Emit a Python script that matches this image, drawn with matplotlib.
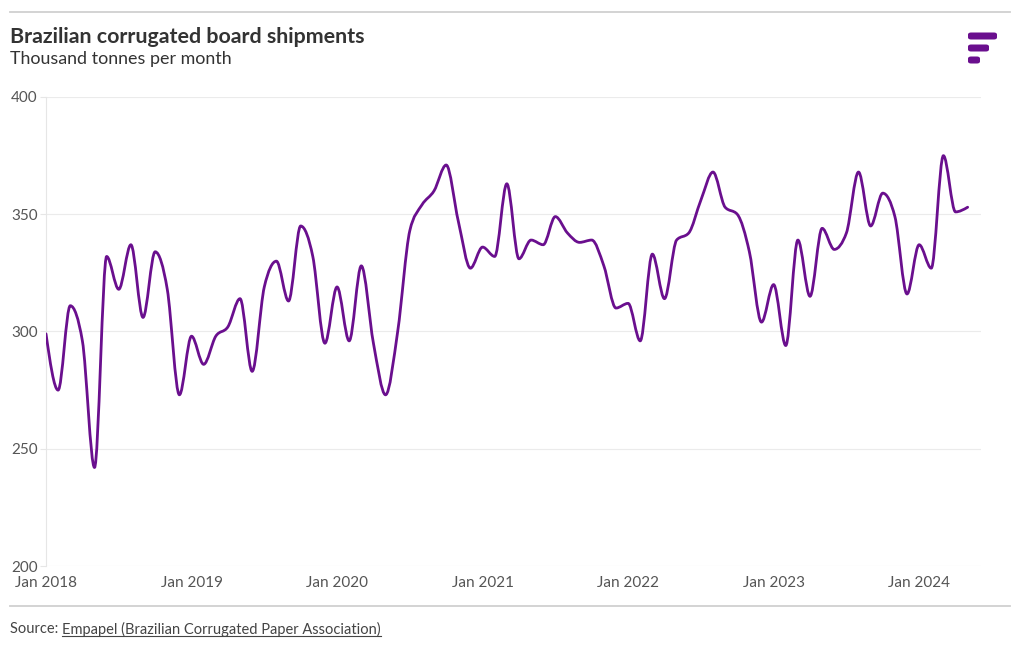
import numpy as np
import matplotlib as mpl
from matplotlib import pyplot as plt
from matplotlib.path import Path
from matplotlib.patches import PathPatch, FancyBboxPatch
from matplotlib.lines import Line2D

mpl.rcParams['font.family'] = ['Lato', 'DejaVu Sans']

# monthly shipments, Jan 2018 .. May 2024 (thousand tonnes)
shipments = [
    299, 275, 311, 296, 242, 332, 318, 337, 306, 334, 318, 273,   # 2018
    298, 286, 298, 302, 314, 283, 319, 330, 313, 345, 332, 295,   # 2019
    319, 296, 328, 295, 273, 300, 343, 354, 360, 371, 347, 327,   # 2020
    336, 332, 363, 331, 339, 337, 349, 342, 338, 339, 328, 310,   # 2021
    312, 296, 333, 314, 339, 342, 356, 368, 353, 350, 334, 304,   # 2022
    320, 294, 339, 315, 344, 335, 342, 368, 345, 359, 349, 316,   # 2023
    337, 327, 375, 351, 353,                                      # 2024
]
tick_labels = ['Jan 2018', 'Jan 2019', 'Jan 2020', 'Jan 2021',
               'Jan 2022', 'Jan 2023', 'Jan 2024']
y_ticks = [200, 250, 300, 350, 400]

purple = '#6a0f8e'


def monotone_path(x, y):
    """Bezier path like d3.curveMonotoneX through the data points."""
    x = np.asarray(x, float)
    y = np.asarray(y, float)
    n = len(x)
    h = np.diff(x)
    s = np.diff(y) / h
    t = np.zeros(n)
    for i in range(1, n - 1):
        p = (s[i - 1] * h[i] + s[i] * h[i - 1]) / (h[i - 1] + h[i])
        t[i] = (np.sign(s[i - 1]) + np.sign(s[i])) * min(abs(s[i - 1]), abs(s[i]), 0.5 * abs(p))
    t[0] = (3 * s[0] - t[1]) / 2
    t[-1] = (3 * s[-1] - t[-2]) / 2
    verts = [(x[0], y[0])]
    codes = [Path.MOVETO]
    for i in range(n - 1):
        dx = (x[i + 1] - x[i]) / 3
        verts += [(x[i] + dx, y[i] + dx * t[i]),
                  (x[i + 1] - dx, y[i + 1] - dx * t[i + 1]),
                  (x[i + 1], y[i + 1])]
        codes += [Path.CURVE4] * 3
    return Path(verts, codes)


fig = plt.figure(figsize=(10.2, 6.5), dpi=100)
fig.patch.set_facecolor('white')
ax = fig.add_axes([46 / 1020, 1 - 566 / 650, (981 - 46) / 1020, (566 - 97) / 650])

months = np.arange(len(shipments))
ax.add_patch(PathPatch(monotone_path(months, shipments), facecolor='none',
                       edgecolor=purple, linewidth=2.0, capstyle='round',
                       joinstyle='round', zorder=3))

ax.set_xlim(0, 77.1)
ax.set_ylim(200, 400)
ax.set_yticks(y_ticks)
ax.set_xticks(np.arange(len(tick_labels)) * 12)
ax.set_xticklabels(tick_labels)
ax.grid(axis='y', color='#ebebeb', linewidth=0.8)
for side in ['top', 'right', 'bottom']:
    ax.spines[side].set_visible(False)
ax.spines['left'].set_color('#e6e6e6')
ax.tick_params(axis='y', length=4, color='#e6e6e6', labelsize=11, labelcolor='#555555', pad=2)
ax.tick_params(axis='x', length=0, labelsize=11, labelcolor='#555555', pad=7)

# header / footer
fig.add_artist(Line2D([10 / 1020, 1010 / 1020], [1 - 12 / 650] * 2, color='#d0d0d0', linewidth=1.3))
fig.add_artist(Line2D([10 / 1020, 1010 / 1020], [1 - 606 / 650] * 2, color='#d0d0d0', linewidth=1.3))
fig.text(10 / 1020, 1 - 37 / 650, 'Brazilian corrugated board shipments', fontsize=15.4,
         fontweight='bold', color='#333333', va='center')
fig.text(10 / 1020, 1 - 59 / 650, 'Thousand tonnes per month', fontsize=12.9,
         color='#333333', va='center')

src = fig.text(10 / 1020, 1 - 629 / 650, 'Source: ', fontsize=10.5, color='#444444', va='center')
fig.canvas.draw()
r = fig.canvas.get_renderer()
bb = src.get_window_extent(r)
link = fig.text(bb.x1 / fig.bbox.width, 1 - 629 / 650,
                'Empapel (Brazilian Corrugated Paper Association)',
                fontsize=10.5, color='#444444', va='center')
lb = link.get_window_extent(r)
fig.add_artist(Line2D([lb.x0 / fig.bbox.width, lb.x1 / fig.bbox.width],
                      [(lb.y0 + 1) / fig.bbox.height] * 2, color='#444444', linewidth=0.8))

# logo
for (x0, x1, yc) in [(968, 997, 36), (968, 989, 48), (968, 980, 60)]:
    fig.add_artist(FancyBboxPatch((x0 / 1020, 1 - (yc + 3.5) / 650), (x1 - x0) / 1020, 7 / 650,
                                  boxstyle='round,pad=0,rounding_size=0.003',
                                  facecolor=purple, edgecolor='none', transform=fig.transFigure))

fig.savefig('out.png', dpi=100, facecolor='white')
